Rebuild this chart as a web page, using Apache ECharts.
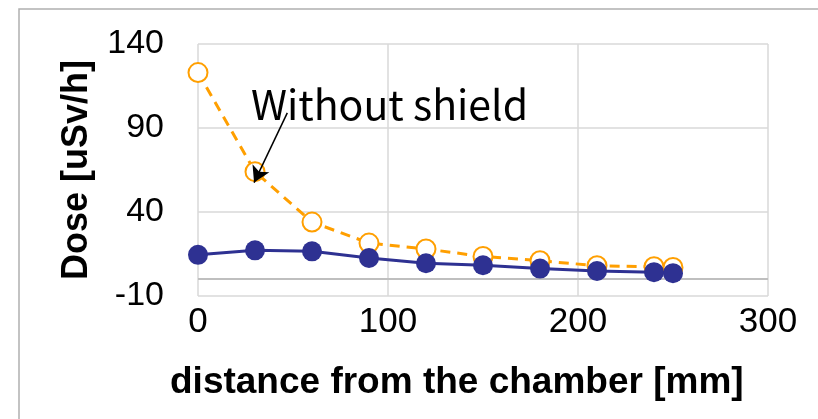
<!DOCTYPE html>
<html>
<head>
<meta charset="utf-8">
<script src="https://cdn.jsdelivr.net/npm/echarts@6/dist/echarts.min.js"></script>
<style>html,body{margin:0;padding:0;background:#fff;}#c{width:818px;height:419px;}</style>
</head>
<body>
<div id="c"></div>
<script>
const distances = [0, 30, 60, 90, 120, 150, 180, 210, 240, 250];
const withoutShield = [123, 64, 34, 21.5, 18, 13.5, 11, 8, 7.4, 7];
const withShield = [14.5, 17.2, 16.6, 12.6, 9.5, 8.3, 6.3, 4.9, 4.2, 3.6];
const yTicks = [-10, 40, 90, 140];
const xTicks = [0, 100, 200, 300];
const annotationText = 'Without shield';
const xTitle = 'distance from the chamber [mm]';
const yTitle = 'Dose [uSv/h]';

const chart = echarts.init(document.getElementById('c'), null, {renderer: 'canvas'});
const pair = (xs, ys) => xs.map((x, i) => [x, ys[i]]);

chart.setOption({
  animation: false,
  backgroundColor: '#ffffff',
  grid: {left: 198, right: 50, top: 44, bottom: 123, containLabel: false},
  xAxis: {
    type: 'value', min: xTicks[0], max: xTicks[xTicks.length - 1], interval: 100,
    axisLine: {show: false, onZero: false},
    axisTick: {show: false},
    axisLabel: {fontFamily: 'Liberation Sans', fontSize: 35, color: '#000', margin: 9},
    splitLine: {show: true, lineStyle: {color: '#d9d9d9', width: 1.5}}
  },
  yAxis: {
    type: 'value', min: yTicks[0], max: yTicks[yTicks.length - 1], interval: 50,
    axisLine: {show: false},
    axisTick: {show: false},
    axisLabel: {fontFamily: 'Liberation Sans', fontSize: 34, color: '#000', margin: 34},
    splitLine: {show: true, lineStyle: {color: '#d9d9d9', width: 1.5}}
  },
  graphic: [
    {type: 'rect', shape: {x: 19, y: 9, width: 820, height: 430}, style: {fill: 'none', stroke: '#b0b0b0', lineWidth: 1.5}, z: 0},
    {type: 'text', left: 170, top: 364, style: {text: xTitle, font: 'bold 37px "Liberation Sans"', fill: '#000'}},
    {type: 'text', x: 77, y: 170, rotation: Math.PI / 2, style: {text: yTitle, font: 'bold 36px "Liberation Sans"', fill: '#000', align: 'center', verticalAlign: 'middle'}},
    {type: 'text', left: 251, top: 84, style: {text: annotationText, font: '41px "Noto Sans CJK JP"', fill: '#000'}, z: 100}
  ],
  series: [
    {
      name: 'Without shield', type: 'line', data: pair(distances, withoutShield),
      symbol: 'emptyCircle', symbolSize: 19,
      lineStyle: {color: '#ff9f00', width: 3, type: [10, 7]},
      itemStyle: {color: '#ff9f00', borderWidth: 1.8},
      z: 3,
      markLine: {
        silent: true, symbol: ['none', 'arrow'], symbolSize: [14, 16],
        lineStyle: {color: '#000', width: 1.5, type: 'solid'},
        label: {show: false},
        data: [[{coord: [47, 99]}, {coord: [29.5, 57.5]}]]
      }
    },
    {
      name: 'With shield', type: 'line', data: pair(distances, withShield),
      symbol: 'circle', symbolSize: 20,
      lineStyle: {color: '#2e3192', width: 3},
      itemStyle: {color: '#2e3192'},
      z: 4,
      markLine: {
        silent: true, symbol: 'none', label: {show: false},
        lineStyle: {color: '#bfbfbf', width: 2, type: 'solid'},
        data: [{yAxis: 0}], z: 1
      }
    }
  ]
});
</script>
</body>
</html>
